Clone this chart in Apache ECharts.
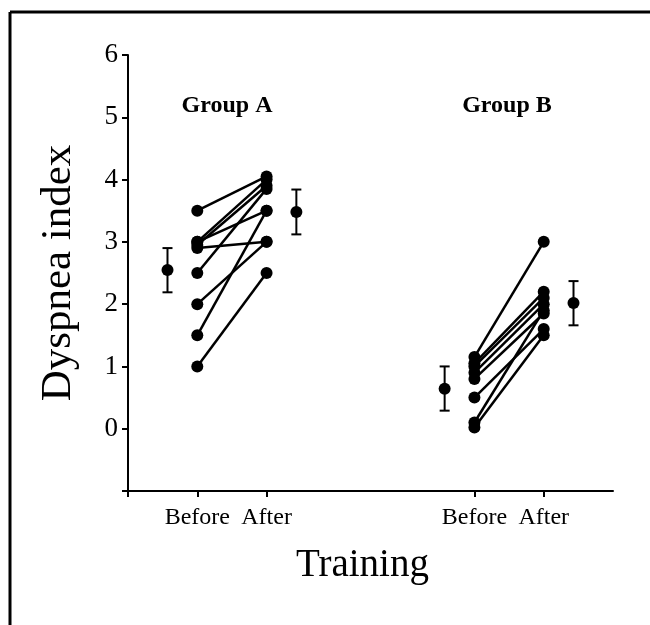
<!DOCTYPE html>
<html>
<head>
<meta charset="utf-8">
<script src="https://cdn.jsdelivr.net/npm/echarts@6/dist/echarts.min.js"></script>
<style>
html,body{margin:0;padding:0;background:#fff;}
#chart{width:650px;height:625px;}
</style>
</head>
<body>
<div id="chart"></div>
<script>
// ---- data ----
var xTickPositions = [1, 2, 5, 6];
var xTickLabels = ['Before', 'After', 'Before', 'After'];
var yTickValues = [0, 1, 2, 3, 4, 5, 6];

var groupABefore = [3.5, 3.0, 2.95, 2.9, 2.5, 2.0, 1.5, 1.0, 3.0];
var groupAAfter  = [4.05, 4.0, 3.9, 3.0, 3.85, 3.0, 3.5, 2.5, 3.5];
var groupBBefore = [1.15, 1.05, 1.0, 0.9, 0.8, 0.5, 0.1, 0.02];
var groupBAfter  = [3.0, 2.2, 2.1, 2.0, 1.85, 1.6, 1.9, 1.5];

var groupAX = [1, 2];
var groupBX = [5, 6];

var errX    = [0.57, 2.43, 4.57, 6.43];
var errMean = [2.55, 3.48, 0.64, 2.02];
var errLow  = [2.19, 3.12, 0.29, 1.66];
var errHigh = [2.90, 3.84, 1.00, 2.37];

var groupTitles = ['Group A', 'Group B'];

// ---- chart ----
var serif = "'Liberation Serif', 'DejaVu Serif', serif";
var chart = echarts.init(document.getElementById('chart'), null, {renderer: 'canvas'});

var series = [];
function addPairs(before, after, xs) {
  for (var i = 0; i < before.length; i++) {
    series.push({
      type: 'line',
      data: [[xs[0], before[i]], [xs[1], after[i]]],
      symbol: 'circle',
      symbolSize: 12,
      itemStyle: {color: '#000'},
      lineStyle: {color: '#000', width: 2.5},
      silent: true,
      animation: false,
      z: 3
    });
  }
}
addPairs(groupABefore, groupAAfter, groupAX);
addPairs(groupBBefore, groupBAfter, groupBX);

var errData = errX.map(function (x, i) { return [x, errMean[i], errLow[i], errHigh[i]]; });
series.push({
  type: 'custom',
  data: errData,
  animation: false,
  silent: true,
  z: 4,
  renderItem: function (params, api) {
    var m = api.coord([api.value(0), api.value(1)]);
    var lo = api.coord([api.value(0), api.value(2)]);
    var hi = api.coord([api.value(0), api.value(3)]);
    var cw = 5;
    var st = {stroke: '#000', lineWidth: 2};
    return {
      type: 'group',
      children: [
        {type: 'line', shape: {x1: m[0], y1: lo[1], x2: m[0], y2: hi[1]}, style: st},
        {type: 'line', shape: {x1: m[0] - cw, y1: lo[1], x2: m[0] + cw, y2: lo[1]}, style: st},
        {type: 'line', shape: {x1: m[0] - cw, y1: hi[1], x2: m[0] + cw, y2: hi[1]}, style: st},
        {type: 'circle', shape: {cx: m[0], cy: m[1], r: 6}, style: {fill: '#000'}}
      ]
    };
  }
});

var option = {
  backgroundColor: '#fff',
  animation: false,
  grid: {left: 128, right: 37, top: 55, bottom: 134, containLabel: false},
  xAxis: {
    type: 'value',
    min: 0, max: 7, interval: 1,
    name: 'Training',
    nameLocation: 'middle',
    nameGap: 55,
    nameTextStyle: {fontFamily: serif, fontSize: 39, color: '#000', padding: [0, 16, 0, 0]},
    axisLine: {show: true, onZero: false, lineStyle: {color: '#000', width: 2}},
    axisTick: {show: true, length: 6, lineStyle: {color: '#000', width: 2}, customValues: [0].concat(xTickPositions)},
    axisLabel: {
      customValues: xTickPositions,
      margin: 15,
      fontFamily: serif, fontSize: 24, color: '#000',
      formatter: function (v) {
        var idx = xTickPositions.indexOf(v);
        return idx >= 0 ? xTickLabels[idx] : '';
      }
    },
    splitLine: {show: false}
  },
  yAxis: {
    type: 'value',
    min: -1, max: 6, interval: 1,
    name: 'Dyspnea index',
    nameLocation: 'middle',
    nameRotate: 90,
    nameGap: 48,
    nameTextStyle: {fontFamily: serif, fontSize: 43, color: '#000'},
    axisLine: {show: true, onZero: false, lineStyle: {color: '#000', width: 2}},
    axisTick: {show: true, length: 6, lineStyle: {color: '#000', width: 2}, customValues: [-1].concat(yTickValues)},
    axisLabel: {
      customValues: yTickValues,
      margin: 10,
      fontFamily: serif, fontSize: 27, color: '#000'
    },
    splitLine: {show: false}
  },
  graphic: [
    {type: 'line', shape: {x1: 10, y1: 12, x2: 650, y2: 12}, style: {stroke: '#000', lineWidth: 3}},
    {type: 'line', shape: {x1: 10, y1: 12, x2: 10, y2: 625}, style: {stroke: '#000', lineWidth: 3}},
    {type: 'text', x: 227, y: 106, style: {text: groupTitles[0], fontFamily: serif, fontWeight: 'bold', fontSize: 24, fill: '#000', align: 'center', verticalAlign: 'middle'}},
    {type: 'text', x: 507, y: 106, style: {text: groupTitles[1], fontFamily: serif, fontWeight: 'bold', fontSize: 24, fill: '#000', align: 'center', verticalAlign: 'middle'}}
  ],
  series: series
};
chart.setOption(option);
</script>
</body>
</html>
